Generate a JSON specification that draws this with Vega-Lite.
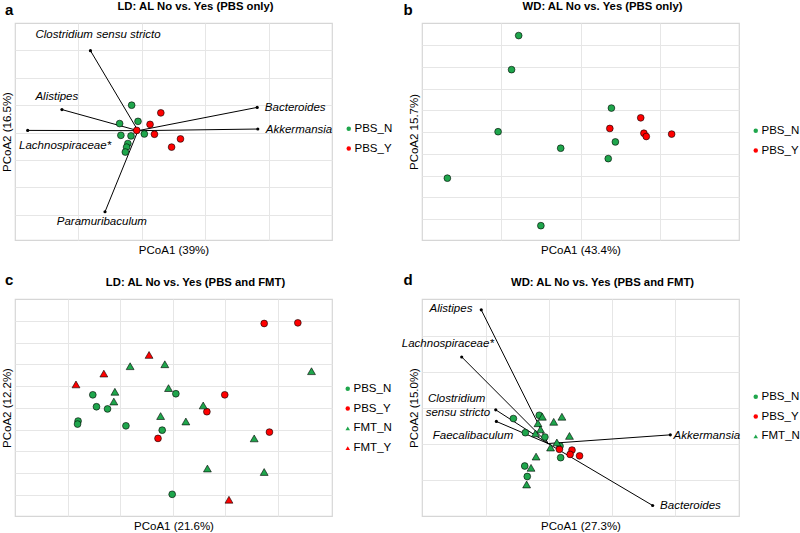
{
  "$schema": "https://vega.github.io/schema/vega-lite/v6.json",
  "padding": {"left": 0, "top": 0, "right": 0, "bottom": 0},
  "config": {
    "font": "Liberation Sans",
    "view": {"stroke": "#d6d6d6", "strokeWidth": 1.2},
    "axis": {"grid": true, "gridColor": "#e6e6e6", "gridWidth": 1, "domain": false, "ticks": false, "labels": false, "titleFont": "Liberation Sans", "titleFontSize": 11.5, "titleFontWeight": "normal", "titleColor": "#000", "titlePadding": 3},
    "axisX": {"titlePadding": 4.5},
    "legend": {"orient": "none", "padding": 0, "labelFont": "Liberation Sans", "labelFontSize": 11.5, "labelColor": "#000", "symbolSize": 20, "symbolStrokeColor": "#000", "symbolStrokeWidth": 0.5, "rowPadding": 6.8, "labelOffset": 0},
    "title": {"font": "Liberation Sans", "fontSize": 11.3, "fontWeight": "bold", "color": "#000", "dx": 22, "anchor": "middle", "frame": "group"}
  },
  "datasets": {
    "a_pts": [
      {"x": -0.016, "y": 0.100, "g": "PBS_N"}, {"x": -0.035, "y": 0.033, "g": "PBS_N"}, {"x": -0.006, "y": 0.041, "g": "PBS_N"},
      {"x": -0.033, "y": -0.010, "g": "PBS_N"}, {"x": -0.017, "y": -0.012, "g": "PBS_N"}, {"x": 0.004, "y": -0.005, "g": "PBS_N"},
      {"x": -0.022, "y": -0.040, "g": "PBS_N"}, {"x": -0.024, "y": -0.053, "g": "PBS_N"}, {"x": -0.026, "y": -0.071, "g": "PBS_N"},
      {"x": 0.030, "y": 0.072, "g": "PBS_Y"}, {"x": 0.013, "y": 0.030, "g": "PBS_Y"}, {"x": -0.008, "y": 0.008, "g": "PBS_Y"},
      {"x": 0.020, "y": -0.006, "g": "PBS_Y"}, {"x": 0.061, "y": -0.023, "g": "PBS_Y"}, {"x": 0.047, "y": -0.053, "g": "PBS_Y"}
    ],
    "a_arr": [
      {"x0": -0.006, "y0": 0.007, "x": -0.081, "y": 0.299},
      {"x0": -0.006, "y0": 0.007, "x": -0.126, "y": 0.084},
      {"x0": -0.006, "y0": 0.007, "x": -0.180, "y": 0.008},
      {"x0": -0.006, "y0": 0.007, "x": -0.058, "y": -0.289},
      {"x0": -0.006, "y0": 0.007, "x": 0.182, "y": 0.092},
      {"x0": -0.006, "y0": 0.007, "x": 0.183, "y": 0.013}
    ],
    "a_lab": [
      {"x": -0.069, "y": 0.356, "label": "Clostridium sensu stricto"},
      {"x": -0.134, "y": 0.130, "label": "Alistipes"},
      {"x": -0.121, "y": -0.049, "label": "Lachnospiraceae*"},
      {"x": -0.063, "y": -0.327, "label": "Paramuribaculum"},
      {"x": 0.242, "y": 0.089, "label": "Bacteroides"},
      {"x": 0.248, "y": 0.011, "label": "Akkermansia"}
    ],
    "b_pts": [
      {"x": -0.078, "y": 0.445, "g": "PBS_N"}, {"x": -0.087, "y": 0.288, "g": "PBS_N"}, {"x": 0.039, "y": 0.111, "g": "PBS_N"},
      {"x": -0.104, "y": 0.002, "g": "PBS_N"}, {"x": 0.044, "y": -0.045, "g": "PBS_N"}, {"x": -0.025, "y": -0.074, "g": "PBS_N"},
      {"x": 0.035, "y": -0.122, "g": "PBS_N"}, {"x": -0.168, "y": -0.212, "g": "PBS_N"}, {"x": -0.050, "y": -0.431, "g": "PBS_N"},
      {"x": 0.076, "y": 0.066, "g": "PBS_Y"}, {"x": 0.037, "y": 0.017, "g": "PBS_Y"}, {"x": 0.080, "y": -0.005, "g": "PBS_Y"},
      {"x": 0.083, "y": -0.020, "g": "PBS_Y"}, {"x": 0.115, "y": -0.009, "g": "PBS_Y"}
    ],
    "c_pts": [
      {"x": -0.152, "y": 0.060, "g": "PBS_N"}, {"x": -0.145, "y": 0.005, "g": "PBS_N"}, {"x": -0.124, "y": -0.005, "g": "PBS_N"},
      {"x": -0.180, "y": -0.061, "g": "PBS_N"}, {"x": -0.181, "y": -0.075, "g": "PBS_N"}, {"x": -0.089, "y": -0.083, "g": "PBS_N"},
      {"x": 0.006, "y": 0.065, "g": "PBS_N"}, {"x": -0.020, "y": -0.103, "g": "PBS_N"}, {"x": -0.001, "y": -0.399, "g": "PBS_N"},
      {"x": 0.174, "y": 0.389, "g": "PBS_Y"}, {"x": 0.238, "y": 0.392, "g": "PBS_Y"}, {"x": 0.099, "y": 0.060, "g": "PBS_Y"},
      {"x": 0.065, "y": -0.018, "g": "PBS_Y"}, {"x": 0.184, "y": -0.112, "g": "PBS_Y"}, {"x": -0.028, "y": -0.141, "g": "PBS_Y"},
      {"x": -0.081, "y": 0.192, "g": "FMT_N"}, {"x": -0.015, "y": 0.201, "g": "FMT_N"}, {"x": -0.110, "y": 0.074, "g": "FMT_N"},
      {"x": -0.008, "y": 0.091, "g": "FMT_N"}, {"x": -0.112, "y": 0.029, "g": "FMT_N"}, {"x": 0.058, "y": 0.011, "g": "FMT_N"},
      {"x": -0.023, "y": -0.038, "g": "FMT_N"}, {"x": 0.025, "y": -0.063, "g": "FMT_N"}, {"x": 0.264, "y": 0.169, "g": "FMT_N"},
      {"x": 0.155, "y": -0.141, "g": "FMT_N"}, {"x": 0.066, "y": -0.280, "g": "FMT_N"}, {"x": 0.174, "y": -0.296, "g": "FMT_N"},
      {"x": -0.184, "y": 0.108, "g": "FMT_Y"}, {"x": -0.131, "y": 0.158, "g": "FMT_Y"}, {"x": -0.045, "y": 0.244, "g": "FMT_Y"},
      {"x": 0.107, "y": -0.424, "g": "FMT_Y"}
    ],
    "d_pts": [
      {"x": -0.056, "y": 0.071, "g": "PBS_N"}, {"x": -0.037, "y": 0.032, "g": "PBS_N"}, {"x": -0.006, "y": 0.020, "g": "PBS_N"},
      {"x": -0.015, "y": 0.080, "g": "PBS_N"}, {"x": 0.018, "y": -0.005, "g": "PBS_N"}, {"x": 0.019, "y": -0.037, "g": "PBS_N"},
      {"x": -0.038, "y": -0.060, "g": "PBS_N"}, {"x": -0.034, "y": -0.089, "g": "PBS_N"},
      {"x": 0.017, "y": -0.014, "g": "PBS_Y"}, {"x": 0.037, "y": -0.016, "g": "PBS_Y"}, {"x": 0.034, "y": -0.028, "g": "PBS_Y"},
      {"x": 0.049, "y": -0.032, "g": "PBS_Y"},
      {"x": -0.010, "y": 0.076, "g": "FMT_N"}, {"x": 0.021, "y": 0.076, "g": "FMT_N"}, {"x": 0.008, "y": 0.062, "g": "FMT_N"},
      {"x": -0.017, "y": 0.058, "g": "FMT_N"}, {"x": -0.013, "y": 0.041, "g": "FMT_N"}, {"x": -0.021, "y": 0.030, "g": "FMT_N"},
      {"x": 0.033, "y": 0.023, "g": "FMT_N"}, {"x": 0.013, "y": 0.005, "g": "FMT_N"}, {"x": 0.003, "y": -0.009, "g": "FMT_N"},
      {"x": -0.020, "y": -0.034, "g": "FMT_N"}, {"x": -0.028, "y": -0.065, "g": "FMT_N"}, {"x": -0.035, "y": -0.111, "g": "FMT_N"}
    ],
    "d_arr": [
      {"x0": -0.001, "y0": 0.002, "x": -0.107, "y": 0.371},
      {"x0": -0.001, "y0": 0.002, "x": -0.138, "y": 0.241},
      {"x0": -0.001, "y0": 0.002, "x": -0.084, "y": 0.095},
      {"x0": -0.001, "y0": 0.002, "x": -0.083, "y": 0.063},
      {"x0": -0.001, "y0": 0.002, "x": 0.193, "y": 0.026},
      {"x0": -0.001, "y0": 0.002, "x": 0.165, "y": -0.169}
    ],
    "d_lab": [
      {"x": -0.155, "y": 0.373, "label": "Alistipes"},
      {"x": -0.160, "y": 0.276, "label": "Lachnospiraceae*"},
      {"x": -0.146, "y": 0.124, "label": "Clostridium"},
      {"x": -0.144, "y": 0.086, "label": "sensu stricto"},
      {"x": -0.120, "y": 0.023, "label": "Faecalibaculum"},
      {"x": 0.251, "y": 0.023, "label": "Akkermansia"},
      {"x": 0.225, "y": -0.171, "label": "Bacteroides"}
    ],
    "letters": [
      {"panel": "a", "x": -0.2, "y": 0.4},
      {"panel": "b", "x": -0.2, "y": 0.503},
      {"panel": "c", "x": -0.3, "y": 0.502},
      {"panel": "d", "x": -0.201, "y": 0.401}
    ]
  },
  "columns": 2,
  "spacing": {"row": 15, "column": 7},
  "resolve": {"scale": {"x": "independent", "y": "independent", "fill": "independent", "shape": "independent"}, "legend": {"fill": "independent", "shape": "independent"}},
  "concat": [
    {
      "width": 317, "height": 217,
      "title": {"text": "LD: AL No vs. Yes (PBS only)", "offset": -9},
      "encoding": {
        "x": {"field": "x", "type": "quantitative", "scale": {"domain": [-0.2, 0.3], "nice": false, "zero": false}, "axis": {"values": [-0.1, 0, 0.1, 0.2], "title": "PCoA1 (39%)"}},
        "y": {"field": "y", "type": "quantitative", "scale": {"domain": [-0.392, 0.4], "nice": false, "zero": false}, "axis": {"values": [-0.3, -0.2, -0.1, 0, 0.1, 0.2, 0.3], "title": "PCoA2 (16.5%)"}}
      },
      "layer": [
        {"data": {"name": "a_arr"}, "mark": {"type": "rule", "color": "#000", "strokeWidth": 1}, "encoding": {"x2": {"field": "x0"}, "y2": {"field": "y0"}}},
        {"data": {"name": "a_arr"}, "mark": {"type": "point", "filled": true, "color": "#000", "size": 10, "opacity": 1}},
        {"data": {"name": "a_pts"}, "mark": {"type": "point", "filled": true, "stroke": "#000", "strokeWidth": 0.6, "size": 46, "opacity": 1},
         "encoding": {
           "fill": {"field": "g", "type": "nominal", "scale": {"domain": ["PBS_N", "PBS_Y"], "range": ["#1fa64c", "#ff0000"]}, "legend": {"title": null, "legendX": 328, "legendY": 100, "encode": {"symbols": {"update": {"stroke": {"value": "#000"}, "strokeWidth": {"value": 0.5}}}}}},
           "shape": {"field": "g", "type": "nominal", "scale": {"domain": ["PBS_N", "PBS_Y"], "range": ["circle", "circle"]}, "legend": {"title": null, "legendX": 328, "legendY": 100, "encode": {"symbols": {"update": {"stroke": {"value": "#000"}, "strokeWidth": {"value": 0.5}}}}}}
         }},
        {"data": {"name": "a_lab"}, "mark": {"type": "text", "fontStyle": "italic", "fontSize": 11.5, "color": "#000", "baseline": "middle"}, "encoding": {"text": {"field": "label"}}},
        {"data": {"name": "letters"}, "transform": [{"filter": "datum.panel === 'a'"}], "mark": {"type": "text", "fontWeight": "bold", "fontSize": 15, "align": "left", "baseline": "alphabetic", "dx": -10, "dy": -8, "color": "#000"},
         "encoding": {"text": {"field": "panel"}}}
      ]
    },
    {
      "width": 317, "height": 217,
      "title": {"text": "WD: AL No vs. Yes (PBS only)", "offset": -9},
      "encoding": {
        "x": {"field": "x", "type": "quantitative", "scale": {"domain": [-0.2, 0.2], "nice": false, "zero": false}, "axis": {"values": [-0.1, 0, 0.1], "title": "PCoA1 (43.4%)"}},
        "y": {"field": "y", "type": "quantitative", "scale": {"domain": [-0.497, 0.503], "nice": false, "zero": false}, "axis": {"values": [-0.4, -0.3, -0.2, -0.1, 0, 0.1, 0.2, 0.3, 0.4], "title": "PCoA2 15.7%)"}}
      },
      "layer": [
        {"data": {"name": "b_pts"}, "mark": {"type": "point", "filled": true, "stroke": "#000", "strokeWidth": 0.6, "size": 46, "opacity": 1},
         "encoding": {
           "fill": {"field": "g", "type": "nominal", "scale": {"domain": ["PBS_N", "PBS_Y"], "range": ["#1fa64c", "#ff0000"]}, "legend": {"title": null, "legendX": 328, "legendY": 102, "encode": {"symbols": {"update": {"stroke": {"value": "#000"}, "strokeWidth": {"value": 0.5}}}}}},
           "shape": {"field": "g", "type": "nominal", "scale": {"domain": ["PBS_N", "PBS_Y"], "range": ["circle", "circle"]}, "legend": {"title": null, "legendX": 328, "legendY": 102, "encode": {"symbols": {"update": {"stroke": {"value": "#000"}, "strokeWidth": {"value": 0.5}}}}}}
         }},
        {"data": {"name": "letters"}, "transform": [{"filter": "datum.panel === 'b'"}], "mark": {"type": "text", "fontWeight": "bold", "fontSize": 15, "align": "left", "baseline": "alphabetic", "dx": -18.5, "dy": -8, "color": "#000"},
         "encoding": {"text": {"field": "panel"}}}
      ]
    },
    {
      "width": 317, "height": 217,
      "title": {"text": "LD: AL No vs. Yes (PBS and FMT)", "offset": -15},
      "encoding": {
        "x": {"field": "x", "type": "quantitative", "scale": {"domain": [-0.3, 0.303], "nice": false, "zero": false}, "axis": {"values": [-0.2, -0.1, 0, 0.1, 0.2], "title": "PCoA1 (21.6%)"}},
        "y": {"field": "y", "type": "quantitative", "scale": {"domain": [-0.499, 0.502], "nice": false, "zero": false}, "axis": {"values": [-0.4, -0.3, -0.2, -0.1, 0, 0.1, 0.2, 0.3, 0.4], "title": "PCoA2 (12.2%)"}},
        "fill": {"field": "g", "type": "nominal", "scale": {"domain": ["PBS_N", "PBS_Y", "FMT_N", "FMT_Y"], "range": ["#1fa64c", "#ff0000", "#1fa64c", "#ff0000"]}, "legend": {"title": null, "legendX": 327, "legendY": 84, "encode": {"symbols": {"update": {"stroke": {"value": "#000"}, "strokeWidth": {"value": 0.5}}}}}},
        "shape": {"field": "g", "type": "nominal", "scale": {"domain": ["PBS_N", "PBS_Y", "FMT_N", "FMT_Y"], "range": ["circle", "circle", "triangle-up", "triangle-up"]}, "legend": {"title": null, "legendX": 327, "legendY": 84, "encode": {"symbols": {"update": {"stroke": {"value": "#000"}, "strokeWidth": {"value": 0.5}}}}}}
      },
      "layer": [
        {"data": {"name": "c_pts"}, "transform": [{"filter": {"field": "g", "oneOf": ["PBS_N", "PBS_Y"]}}], "mark": {"type": "point", "filled": true, "stroke": "#000", "strokeWidth": 0.6, "size": 46, "opacity": 1}},
        {"data": {"name": "c_pts"}, "transform": [{"filter": {"field": "g", "oneOf": ["FMT_N", "FMT_Y"]}}], "mark": {"type": "point", "filled": true, "stroke": "#000", "strokeWidth": 0.6, "size": 62, "opacity": 1}},
        {"data": {"name": "letters"}, "transform": [{"filter": "datum.panel === 'c'"}], "mark": {"type": "text", "fontWeight": "bold", "fontSize": 15, "align": "left", "baseline": "alphabetic", "dx": -10, "dy": -14, "color": "#000"},
         "encoding": {"text": {"field": "panel"}, "fill": null, "shape": null}}
      ]
    },
    {
      "width": 317, "height": 217,
      "title": {"text": "WD: AL No vs. Yes (PBS and FMT)", "offset": -15},
      "encoding": {
        "x": {"field": "x", "type": "quantitative", "scale": {"domain": [-0.201, 0.302], "nice": false, "zero": false}, "axis": {"values": [-0.1, 0, 0.1, 0.2], "title": "PCoA1 (27.3%)"}},
        "y": {"field": "y", "type": "quantitative", "scale": {"domain": [-0.198, 0.401], "nice": false, "zero": false}, "axis": {"values": [-0.1, 0, 0.1, 0.2, 0.3], "title": "PCoA2 (15.0%)"}}
      },
      "layer": [
        {"data": {"name": "d_arr"}, "mark": {"type": "rule", "color": "#000", "strokeWidth": 1}, "encoding": {"x2": {"field": "x0"}, "y2": {"field": "y0"}}},
        {"data": {"name": "d_arr"}, "mark": {"type": "point", "filled": true, "color": "#000", "size": 10, "opacity": 1}},
        {"data": {"name": "d_pts"}, "transform": [{"filter": {"field": "g", "oneOf": ["PBS_N", "PBS_Y"]}}], "mark": {"type": "point", "filled": true, "stroke": "#000", "strokeWidth": 0.6, "size": 46, "opacity": 1},
         "encoding": {
           "fill": {"field": "g", "type": "nominal", "scale": {"domain": ["PBS_N", "PBS_Y", "FMT_N"], "range": ["#1fa64c", "#ff0000", "#1fa64c"]}, "legend": {"title": null, "legendX": 328, "legendY": 92, "encode": {"symbols": {"update": {"stroke": {"value": "#000"}, "strokeWidth": {"value": 0.5}}}}}},
           "shape": {"field": "g", "type": "nominal", "scale": {"domain": ["PBS_N", "PBS_Y", "FMT_N"], "range": ["circle", "circle", "triangle-up"]}, "legend": {"title": null, "legendX": 328, "legendY": 92, "encode": {"symbols": {"update": {"stroke": {"value": "#000"}, "strokeWidth": {"value": 0.5}}}}}}
         }},
        {"data": {"name": "d_pts"}, "transform": [{"filter": {"field": "g", "oneOf": ["FMT_N"]}}], "mark": {"type": "point", "filled": true, "stroke": "#000", "strokeWidth": 0.6, "size": 62, "opacity": 1},
         "encoding": {
           "fill": {"field": "g", "type": "nominal", "scale": {"domain": ["PBS_N", "PBS_Y", "FMT_N"], "range": ["#1fa64c", "#ff0000", "#1fa64c"]}, "legend": {"title": null, "legendX": 328, "legendY": 92, "encode": {"symbols": {"update": {"stroke": {"value": "#000"}, "strokeWidth": {"value": 0.5}}}}}},
           "shape": {"field": "g", "type": "nominal", "scale": {"domain": ["PBS_N", "PBS_Y", "FMT_N"], "range": ["circle", "circle", "triangle-up"]}, "legend": {"title": null, "legendX": 328, "legendY": 92, "encode": {"symbols": {"update": {"stroke": {"value": "#000"}, "strokeWidth": {"value": 0.5}}}}}}
         }},
        {"data": {"name": "d_lab"}, "mark": {"type": "text", "fontStyle": "italic", "fontSize": 11.5, "color": "#000", "baseline": "middle"}, "encoding": {"text": {"field": "label"}}},
        {"data": {"name": "letters"}, "transform": [{"filter": "datum.panel === 'd'"}], "mark": {"type": "text", "fontWeight": "bold", "fontSize": 15, "align": "left", "baseline": "alphabetic", "dx": -18.5, "dy": -14, "color": "#000"},
         "encoding": {"text": {"field": "panel"}}}
      ]
    }
  ]
}
